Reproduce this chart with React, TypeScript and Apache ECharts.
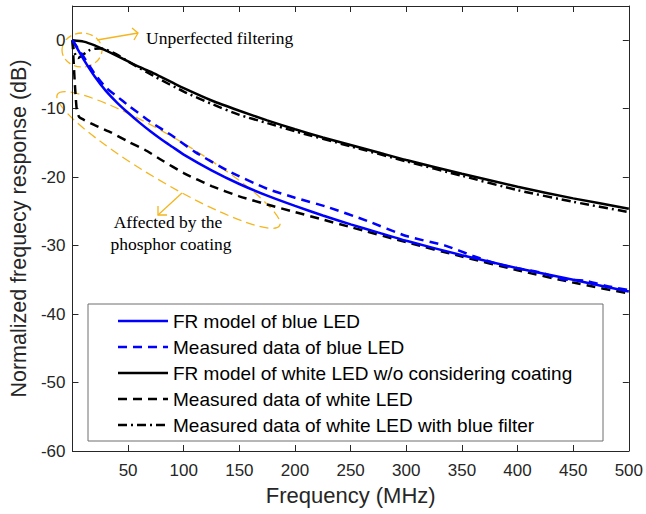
import React, { useEffect, useRef } from "react";
import * as echarts from "echarts";

// ---------- data ----------
const seriesNames = [
  "FR model of blue LED",
  "Measured data of blue LED",
  "FR model of white LED w/o considering coating",
  "Measured data of white LED",
  "Measured data of white LED with blue filter",
];

const xTicks = [50, 100, 150, 200, 250, 300, 350, 400, 450, 500];
const yTicks = [-60, -50, -40, -30, -20, -10, 0];

const freqModel = [0, 10, 20, 30, 40, 50, 60, 70, 80, 90, 100, 125, 150, 175, 200, 225, 250, 275, 300, 350, 400, 450, 500];
const blueModel = [0, -2.8, -5.3, -7.4, -9.1, -10.6, -12.0, -13.3, -14.5, -15.6, -16.7, -19.0, -21.0, -22.7, -24.2, -25.6, -26.9, -28.1, -29.3, -31.4, -33.3, -35.0, -36.7];
const whiteModel = [0, -0.2, -0.75, -1.5, -2.3, -3.1, -3.9, -4.6, -5.4, -6.2, -7.0, -8.8, -10.3, -11.7, -13.0, -14.2, -15.3, -16.4, -17.5, -19.5, -21.4, -23.1, -24.6];

const freqBlueMeas = [0, 5, 10, 20, 30, 40, 50, 70, 90, 110, 140, 175, 200, 230, 265, 300, 335, 360, 380, 400, 420, 440, 460, 480, 500];
const blueMeas = [0, -1.2, -2.4, -4.9, -6.9, -8.2, -9.5, -11.9, -14.0, -16.3, -19.1, -21.7, -23.0, -24.4, -26.4, -28.6, -30.0, -31.5, -32.6, -33.3, -33.9, -34.9, -35.1, -35.9, -36.5];

const freqWhiteMeas = [0, 1, 2, 3, 4, 6, 10, 20, 35, 50, 65, 80, 100, 125, 150, 175, 200, 225, 250, 300, 350, 400, 450, 500];
const whiteMeas = [0, -3, -6, -8.5, -10.3, -11.2, -11.6, -12.4, -13.5, -14.8, -16.0, -17.5, -19.4, -21.3, -22.8, -24.0, -25.1, -26.2, -27.3, -29.5, -31.6, -33.6, -35.4, -37.0];

const freqFiltered = [0, 1, 3, 5, 8, 12, 16, 20, 25, 30, 40, 50, 75, 100, 125, 150, 175, 200, 250, 300, 350, 400, 450, 500];
const whiteFiltered = [0, -1.2, -2.3, -2.6, -2.3, -1.8, -1.4, -1.25, -1.2, -1.35, -2.1, -3.1, -5.4, -7.5, -9.3, -10.9, -12.1, -13.3, -15.5, -17.7, -19.8, -21.9, -23.6, -25.1];

// ---------- styles ----------
const SANS = '"Liberation Sans", Arial, Helvetica, sans-serif';
const SERIF = '"Liberation Serif", "Times New Roman", serif';
const AXIS_COLOR = "#262626";
const ORANGE = "#F5B51E";

const lineStyles: { color: string; type: any }[] = [
  { color: "#0000FF", type: "solid" },
  { color: "#0000FF", type: [9, 6] },
  { color: "#000000", type: "solid" },
  { color: "#000000", type: [9, 6] },
  { color: "#000000", type: [9, 4, 2, 4] },
];

const pairs = (xs: number[], ys: number[]) => xs.map((x, i) => [x, ys[i]]);

export default function App() {
  const ref = useRef<HTMLDivElement>(null);

  useEffect(() => {
    const chart = echarts.init(ref.current!, null, { renderer: "svg" });

    const seriesData = [
      pairs(freqModel, blueModel),
      pairs(freqBlueMeas, blueMeas),
      pairs(freqModel, whiteModel),
      pairs(freqWhiteMeas, whiteMeas),
      pairs(freqFiltered, whiteFiltered),
    ];

    const legendLeft = 88;
    const legendTop = 304;
    const rowH = 26;
    const legendChildren: any[] = [
      {
        type: "rect",
        shape: { x: legendLeft, y: legendTop, width: 515, height: 137 },
        style: { fill: "#ffffff", stroke: "#6e6e6e", lineWidth: 1 },
      },
    ];
    seriesNames.forEach((name, i) => {
      const y = legendTop + 17 + i * rowH;
      const ls = lineStyles[i];
      legendChildren.push({
        type: "line",
        shape: { x1: 118, y1: y, x2: 168, y2: y },
        style: {
          stroke: ls.color,
          lineWidth: 2.5,
          lineDash: Array.isArray(ls.type) ? ls.type : null,
        },
      });
      legendChildren.push({
        type: "text",
        x: 173,
        y: y,
        style: {
          text: name,
          fontSize: 19,
          fontFamily: SANS,
          fill: "#000000",
          align: "left",
          verticalAlign: "middle",
        },
      });
    });

    const annotations: any[] = [
      {
        type: "ellipse",
        x: 82,
        y: 50,
        shape: { cx: 0, cy: 0, rx: 20, ry: 17 },
        style: { fill: "none", stroke: ORANGE, lineWidth: 1.3, lineDash: [7, 4] },
      },
      {
        type: "ellipse",
        x: 168.5,
        y: 160,
        rotation: -0.534,
        shape: { cx: 0, cy: 0, rx: 129, ry: 22 },
        style: { fill: "none", stroke: ORANGE, lineWidth: 1.3, lineDash: [9, 5] },
      },
      {
        type: "line",
        shape: { x1: 97, y1: 40, x2: 138, y2: 33 },
        style: { stroke: ORANGE, lineWidth: 1.3 },
      },
      {
        type: "polyline",
        shape: { points: [[132, 28], [138, 33], [134, 40]] },
        style: { stroke: ORANGE, lineWidth: 1.3, fill: "none" },
      },
      {
        type: "line",
        shape: { x1: 182, y1: 193, x2: 158, y2: 215 },
        style: { stroke: ORANGE, lineWidth: 1.3 },
      },
      {
        type: "polyline",
        shape: { points: [[158, 206], [158, 215], [167, 215]] },
        style: { stroke: ORANGE, lineWidth: 1.3, fill: "none" },
      },
      {
        type: "text",
        x: 146,
        y: 38,
        style: { text: "Unperfected filtering", fontSize: 17.5, fontFamily: SERIF, fill: "#000", verticalAlign: "middle" },
      },
      {
        type: "text",
        x: 168,
        y: 222,
        style: { text: "Affected by the", fontSize: 17.5, fontFamily: SERIF, fill: "#000", align: "center", verticalAlign: "middle" },
      },
      {
        type: "text",
        x: 171,
        y: 244,
        style: { text: "phosphor coating", fontSize: 17.5, fontFamily: SERIF, fill: "#000", align: "center", verticalAlign: "middle" },
      },
    ];

    const axisCommon = {
      type: "value" as const,
      axisLine: { show: true, onZero: false, lineStyle: { color: AXIS_COLOR, width: 1 } },
      axisTick: { show: true, inside: true, length: 6, lineStyle: { color: AXIS_COLOR } },
      splitLine: { show: false },
    };

    const option: any = {
      animation: false,
      backgroundColor: "#ffffff",
      grid: { left: 69, right: 13, top: 6, bottom: 63, containLabel: false },
      xAxis: [
        {
          ...axisCommon,
          min: 0,
          max: 500,
          interval: 50,
          position: "bottom",
          name: "Frequency (MHz)",
          nameLocation: "middle",
          nameGap: 33,
          nameTextStyle: { fontSize: 22, fontFamily: SANS, color: AXIS_COLOR },
          axisLabel: {
            show: true,
            margin: 11,
            fontSize: 17,
            fontFamily: SANS,
            color: AXIS_COLOR,
            showMinLabel: false,
            formatter: (v: number) => (xTicks.includes(v) ? String(v) : ""),
          },
        },
        {
          ...axisCommon,
          min: 0,
          max: 500,
          interval: 50,
          position: "top",
          axisLabel: { show: false },
        },
      ],
      yAxis: [
        {
          ...axisCommon,
          min: -60,
          max: 5,
          interval: 10,
          position: "left",
          name: "Normalized frequecy response (dB)",
          nameLocation: "middle",
          nameGap: 39,
          nameTextStyle: { fontSize: 21.5, fontFamily: SANS, color: AXIS_COLOR },
          axisLabel: {
            show: true,
            margin: 7,
            fontSize: 17,
            fontFamily: SANS,
            color: AXIS_COLOR,
            showMaxLabel: false,
            formatter: (v: number) => (yTicks.includes(v) ? String(v) : ""),
          },
        },
        {
          ...axisCommon,
          min: -60,
          max: 5,
          interval: 10,
          position: "right",
          axisLabel: { show: false },
        },
      ],
      series: seriesNames.map((name, i) => ({
        name,
        type: "line",
        xAxisIndex: 0,
        yAxisIndex: 0,
        data: seriesData[i],
        showSymbol: false,
        symbol: "none",
        smooth: 0.2,
        clip: true,
        lineStyle: { color: lineStyles[i].color, type: lineStyles[i].type, width: 2.5 },
        z: 2 + (4 - i),
      })),
      graphic: [
        { type: "group", z: 100, children: annotations },
        { type: "group", z: 110, children: legendChildren },
      ],
    };

    chart.setOption(option);
    return () => chart.dispose();
  }, []);

  return (
    <div
      ref={ref}
      style={{ position: "fixed", left: 0, top: 0, width: 646, height: 514, background: "#fff" }}
    />
  );
}
